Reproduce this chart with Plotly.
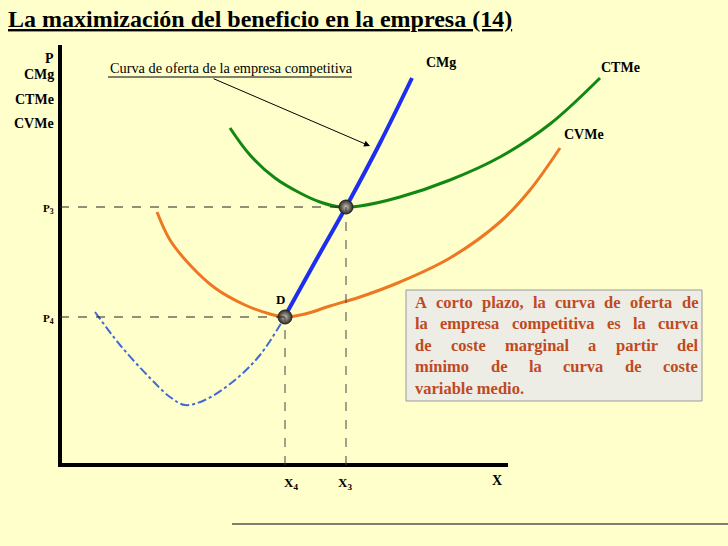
import plotly.graph_objects as go

# ---- data (chart units: quantity q, price p) ----
cmg_q = [225, 255, 286, 320, 352]
cmg_p = [149, 203, 258, 322, 387]

cmg_low_q = [35, 60, 90, 110, 125, 145, 175, 200, 223]
cmg_low_p = [153, 120, 87, 68, 60, 65, 85, 110, 145]

ctme_q = [170, 190, 215, 240, 260, 280, 300, 340, 390, 440, 490, 540]
ctme_p = [337, 310, 287, 272, 263, 258, 259, 268, 285, 308, 341, 387]

cvme_q = [97, 110, 130, 155, 185, 210, 225, 245, 270, 300, 340, 390, 440, 470, 500]
cvme_p = [253, 225, 200, 177, 160, 151, 148, 151, 159, 168, 183, 207, 243, 275, 317]

point_q = [225, 286]   # X4, X3
point_p = [148, 258]   # P4, P3

box_lines = [
    "A corto plazo, la curva de oferta de",
    "la empresa competitiva es la curva",
    "de coste marginal a partir del",
    "mínimo de la curva de coste",
    "variable medio.",
]

SERIF = "Liberation Serif"
fig = go.Figure()

fig.add_trace(go.Scatter(x=cmg_low_q, y=cmg_low_p, mode="lines", line_shape="spline",
                         line=dict(color="#4169D8", width=2, dash="dashdot"), hoverinfo="skip"))
fig.add_trace(go.Scatter(x=cvme_q, y=cvme_p, mode="lines", line_shape="spline",
                         line=dict(color="#EE7722", width=3), hoverinfo="skip"))
fig.add_trace(go.Scatter(x=ctme_q, y=ctme_p, mode="lines", line_shape="spline",
                         line=dict(color="#118811", width=3), hoverinfo="skip"))
fig.add_trace(go.Scatter(x=cmg_q, y=cmg_p, mode="lines", line_shape="spline",
                         line=dict(color="#1E2EEE", width=4), hoverinfo="skip"))

shapes = []
# axes
shapes.append(dict(type="line", x0=0, x1=0, y0=-2, y1=420, line=dict(color="black", width=4)))
shapes.append(dict(type="line", x0=-2, x1=448, y0=0, y1=0, line=dict(color="black", width=4)))
# dashed guides
for q, p in zip(point_q, point_p):
    shapes.append(dict(type="line", x0=0, x1=q, y0=p, y1=p, line=dict(color="#222", width=1, dash="dash")))
    shapes.append(dict(type="line", x0=q, x1=q, y0=0, y1=p, line=dict(color="#444", width=1, dash="dash")))
# underline of caption
shapes.append(dict(type="line", x0=48, x1=292, y0=388, y1=388, line=dict(color="black", width=1)))
# text box
shapes.append(dict(type="rect", x0=346, x1=642, y0=64, y1=175, fillcolor="#EDEDE6",
                   line=dict(color="#999", width=1), layer="below"))
# bottom rule
shapes.append(dict(type="line", x0=172, x1=668, y0=-59, y1=-59, line=dict(color="#555", width=1.5)))

fig.add_trace(go.Scatter(x=point_q, y=point_p, mode="markers", hoverinfo="skip",
                         marker=dict(size=14, color="#2E2A22", line=dict(color="#222", width=1),
                                     gradient=dict(type="radial", color="#C8C4B8"))))

ann = []
def lab(x, y, t, size=12, bold=True, xanchor="center", color="black"):
    ann.append(dict(x=x, y=y, text=("<b>%s</b>" % t) if bold else t, showarrow=False,
                    xanchor=xanchor, yanchor="middle",
                    font=dict(family=SERIF, size=size, color=color)))

lab(-4, 407, "P", size=14, xanchor="right")
lab(-4, 391, "CMg", size=14, xanchor="right")
lab(-4, 366, "CTMe", size=14, xanchor="right")
lab(-4, 342, "CVMe", size=14, xanchor="right")
lab(-12, 256, "P<sub>3</sub>", size=11)
lab(-12, 146, "P<sub>4</sub>", size=11)
lab(231, -18, "X<sub>4</sub>", size=13)
lab(285, -18, "X<sub>3</sub>", size=13)
lab(437, -15, "X", size=14)
lab(220, 166, "D", size=13)
lab(381, 403, "CMg", size=14)
lab(560, 398, "CTMe", size=14)
lab(524, 331, "CVMe", size=14)
lab(171, 397, "Curva de oferta de la empresa competitiva", size=14.3, bold=False)

# justified text box (Times-Bold metrics, per 1000 em)
W = {' ': 250, ',': 250, '.': 250, 'A': 722, 'a': 500, 'b': 556, 'c': 444, 'd': 556, 'e': 444,
     'f': 333, 'g': 500, 'h': 556, 'i': 278, 'í': 278, 'l': 278, 'm': 833, 'n': 556, 'o': 500,
     'p': 556, 'r': 444, 's': 389, 't': 333, 'u': 556, 'v': 500, 'z': 444}
FS = 16.5
BOX_L, BOX_R = 353, 636
TXT = "#BF4A1E"
for i, line in enumerate(box_lines):
    y = 163 - i * 21.5
    words = line.split()
    if i == len(box_lines) - 1:
        lab(BOX_L, y, line, size=FS, xanchor="left", color=TXT)
        continue
    widths = [sum(W.get(c, 500) for c in w) * FS / 1000 for w in words]
    gap = (BOX_R - BOX_L - sum(widths)) / (len(words) - 1)
    x = BOX_L
    for w, wd in zip(words, widths):
        lab(x, y, w, size=FS, xanchor="left", color=TXT)
        x += wd + gap

# arrow
ann.append(dict(x=310, y=319, ax=152, ay=387, axref="x", ayref="y", xref="x", yref="y",
                showarrow=True, arrowhead=2, arrowsize=1.2, arrowwidth=1, arrowcolor="black", text=""))
# title
ann.append(dict(x=6 / 728, y=1 - 19 / 546, xref="paper", yref="paper", xanchor="left", yanchor="middle",
                showarrow=False, text="<b><u>La maximización del beneficio en la empresa (14)</u></b>",
                font=dict(family=SERIF, size=24, color="black")))

fig.update_layout(
    width=728, height=546, margin=dict(l=0, r=0, t=0, b=0),
    paper_bgcolor="#FFFFCC", plot_bgcolor="#FFFFCC", showlegend=False,
    xaxis=dict(range=[-60, 668], visible=False, fixedrange=True),
    yaxis=dict(range=[-81, 465], visible=False, fixedrange=True),
    shapes=shapes, annotations=ann,
)
fig.write_html("out.html")
